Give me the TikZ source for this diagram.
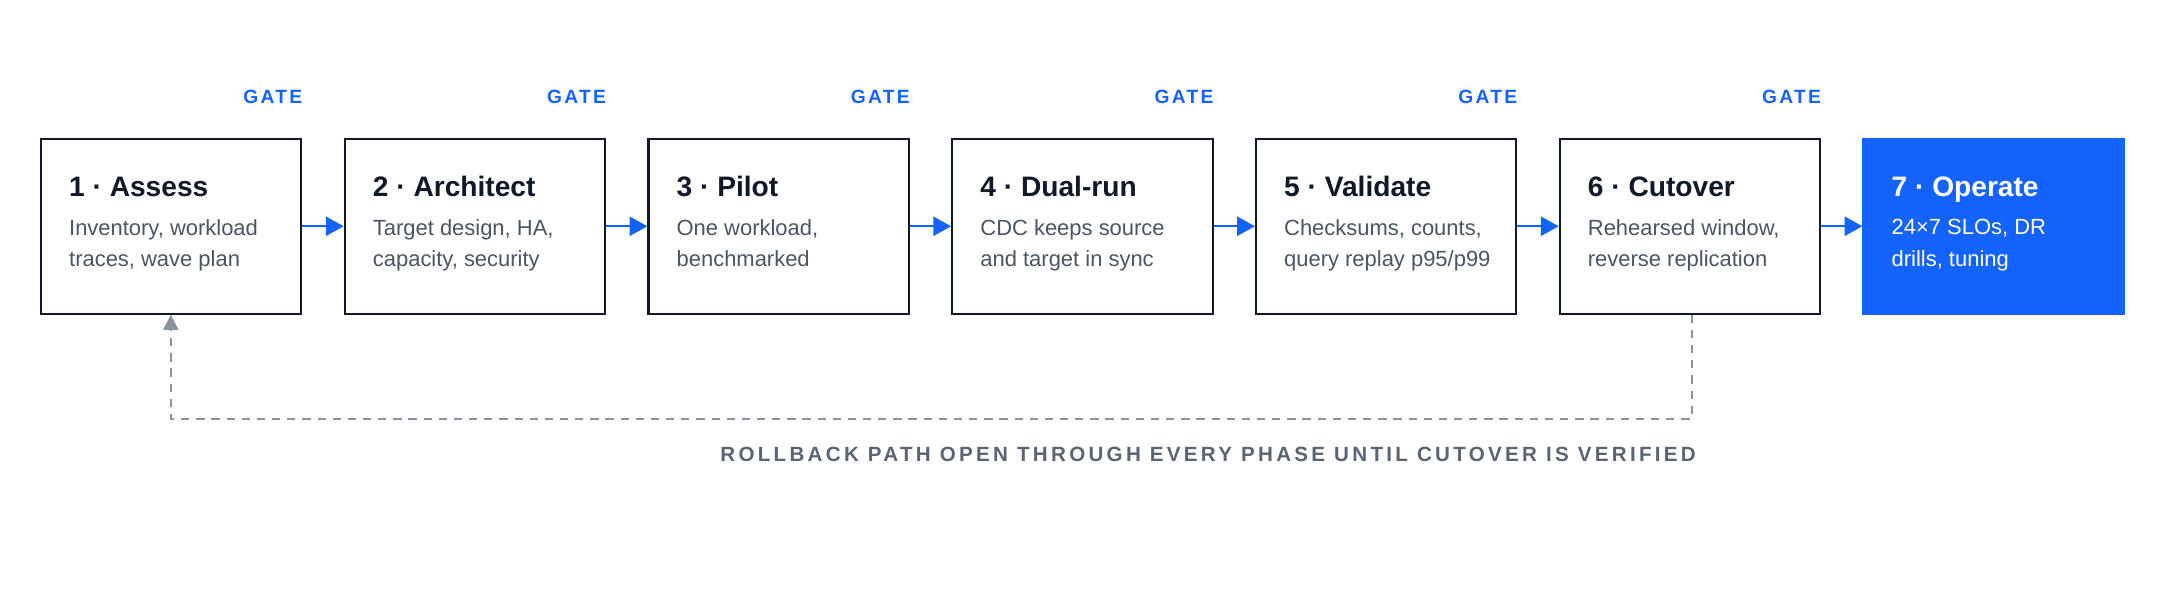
\documentclass[tikz,border=0pt]{standalone}
\usepackage{fontspec}
\setmainfont{Liberation Sans}
\newfontfamily\spaced[LetterSpace=12]{Liberation Sans}
\newfontfamily\wspaced[LetterSpace=16]{Liberation Sans}
\usetikzlibrary{arrows.meta}
\definecolor{blu}{HTML}{1463FF}
\definecolor{ink}{HTML}{111827}
\definecolor{body}{HTML}{4B5563}
\definecolor{gry}{HTML}{8B93A3}
\definecolor{lbl}{HTML}{5B6472}
\begin{document}
\begin{tikzpicture}[x=1bp,y=-1bp,
 box/.style={draw=ink,line width=1.5bp,fill=white,minimum width=189bp,minimum height=127bp,anchor=north west,inner sep=0},
 hot/.style={box,draw=blu,fill=blu},
 ttl/.style={anchor=base west,font=\bfseries\fontsize{20.5}{22}\selectfont,text=ink,inner sep=0},
 dsc/.style={anchor=north west,font=\fontsize{16}{23}\selectfont,text=body,align=left,inner sep=0},
 gate/.style={font=\spaced\bfseries\fontsize{14}{16}\selectfont,text=blu},
 flow/.style={draw=blu,line width=1.5bp,-{Triangle[length=13bp,width=14bp]}},
 back/.style={draw=gry,line width=1.5bp,dash pattern=on 6bp off 5bp,-{Triangle[length=11bp,width=11bp]}}]
\useasboundingbox (0,0) rectangle (1568,435);
\foreach \i/\x/\t/\a/\b in {1/29/Assess/{Inventory, workload}/{traces, wave plan},
 2/249.5/Architect/{Target design, HA,}/{capacity, security},
 3/470/Pilot/{One workload,}/{benchmarked},
 4/690.5/Dual-run/{CDC keeps source}/{and target in sync},
 5/911/Validate/{Checksums, counts,}/{query replay p95/p99},
 6/1131.5/Cutover/{Rehearsed window,}/{reverse replication}}{
 \node[box] (b\i) at (\x,100) {};
 \node[ttl] (t\i) at (\x+21,143) {\i\ · \t};
 \node[dsc] (d\i) at (\x+21,159) {\a\\\b};
}
\node[hot] (b7) at (1352,100) {};
\node[ttl,text=white] (t7) at (1373,143) {7 · Operate};
\node[dsc,text=white] (d7) at (1373,159) {24×7 SLOs, DR\\drills, tuning};
\foreach \i/\j/\x in {1/2/198,2/3/418.5,3/4/639,4/5/859.5,5/6/1080,6/7/1300.5}{
 \draw[flow] (b\i.east) -- (b\j.west);
 \node[gate] (g\i) at (\x,70) {GATE};
}
\coordinate (r1) at (1228,304);
\coordinate (r2) at (124,304);
\draw[back] (b6.south -| r1) -- (r1) -- (r2) -- (b1.south -| r2);
\node[font=\wspaced\bfseries\fontsize{15}{17}\selectfont,text=lbl] (rl) at (877,330) {ROLLBACK PATH OPEN THROUGH EVERY PHASE UNTIL CUTOVER IS VERIFIED};
\end{tikzpicture}
\end{document}
